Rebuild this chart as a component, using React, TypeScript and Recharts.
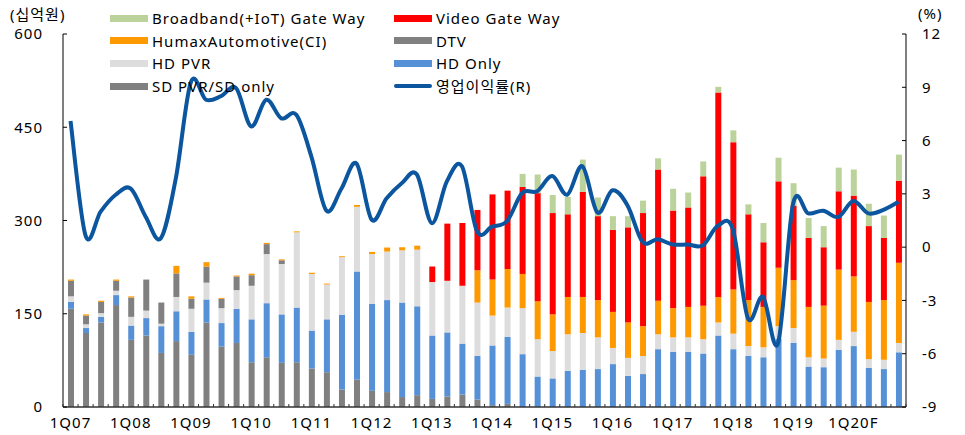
import React from 'react';
import { ComposedChart, Bar, Line, XAxis, YAxis, Legend } from 'recharts';

const quarters = [
  '1Q07', '2Q07', '3Q07', '4Q07', '1Q08', '2Q08', '3Q08', '4Q08',
  '1Q09', '2Q09', '3Q09', '4Q09', '1Q10', '2Q10', '3Q10', '4Q10',
  '1Q11', '2Q11', '3Q11', '4Q11', '1Q12', '2Q12', '3Q12', '4Q12',
  '1Q13', '2Q13', '3Q13', '4Q13', '1Q14', '2Q14', '3Q14', '4Q14',
  '1Q15', '2Q15', '3Q15', '4Q15', '1Q16', '2Q16', '3Q16', '4Q16',
  '1Q17', '2Q17', '3Q17', '4Q17', '1Q18', '2Q18', '3Q18', '4Q18',
  '1Q19', '2Q19', '3Q19', '4Q19', '1Q20F', '2Q20F', '3Q20F', '4Q20F',
];

const sdPvr = [
  158, 119, 136, 164, 108, 115, 87, 106, 84, 136, 97, 103, 72, 80, 71, 72,
  62, 56, 28, 44, 26, 24, 16, 19, 13, 17, 20, 12, 3, 5, 0, 0,
  0, 0, 0, 0, 0, 0, 0, 0, 0, 0, 0, 0, 0, 0, 0, 0,
  0, 0, 0, 0, 0, 0, 0, 0,
];
const hdOnly = [
  11, 8, 9, 16, 23, 28, 43, 48, 37, 37, 38, 55, 69, 87, 78, 88,
  61, 85, 120, 174, 140, 148, 152, 143, 102, 103, 82, 70, 96, 108, 85, 49,
  46, 58, 60, 61, 69, 50, 53, 93, 89, 89, 86, 115, 93, 82, 80, 110,
  103, 65, 64, 92, 98, 63, 61, 88,
];
const hdPvr = [
  9, 6, 6, 7, 14, 12, 4, 23, 37, 27, 24, 30, 54, 79, 81, 121,
  91, 56, 93, 104, 80, 78, 84, 91, 86, 83, 93, 86, 48, 47, 74, 60,
  44, 59, 59, 51, 26, 29, 29, 24, 23, 23, 23, 21, 25, 16, 16, 20,
  24, 15, 14, 16, 23, 14, 15, 15,
];
const dtv = [
  25, 14, 18, 16, 31, 50, 34, 38, 16, 26, 15, 22, 17, 16, 6, 0,
  0, 0, 0, 0, 0, 0, 0, 0, 0, 0, 0, 0, 0, 0, 0, 0,
  0, 0, 0, 0, 0, 0, 0, 0, 0, 0, 0, 0, 0, 0, 0, 0,
  0, 0, 0, 0, 0, 0, 0, 0,
];
const automotive = [
  2, 2, 2, 2, 2, 0, 0, 12, 4, 7, 1.5, 1.5, 2.5, 2, 1.5, 1.5,
  2, 1.5, 1.5, 3, 3.5, 6.5, 5, 6.5, 0, 0, 0, 52, 58, 62, 55, 61,
  59, 60, 58, 60, 58, 57, 48, 54, 47, 49, 54, 41, 71, 74, 65, 94,
  77, 81, 85, 113, 89, 92, 96, 129,
];
const videoGw = [
  0, 0, 0, 0, 0, 0, 0, 0, 0, 0, 0, 0, 0, 0, 0, 0,
  0, 0, 0, 0, 0, 0, 0, 0, 25, 92, 101, 97, 137, 126, 140, 174,
  163, 133, 169, 135, 132, 153, 182, 211, 157, 160, 208, 329, 237, 138, 104, 139,
  120, 111, 94, 126, 130, 122, 100, 132,
];
const broadbandGw = [
  0, 0, 0, 0, 0, 0, 0, 0, 0, 0, 0, 0, 0, 0, 0, 0,
  0, 0, 0, 0, 0, 0, 0, 0, 0, 0, 0, 0, 0, 0, 21, 30,
  29, 28, 52, 30, 22, 18, 20, 18, 35, 24, 24, 9, 19, 16, 31, 38,
  36, 32, 34, 38, 42, 36, 36, 42,
];
const opMargin = [
  7.1, 0.65, 2.0, 2.95, 3.3, 1.7, 0.5, 3.9, 9.3, 8.3, 8.5, 8.95, 6.8, 8.3, 7.25, 7.45,
  5.1, 2.05, 3.3, 4.7, 1.55, 2.75, 3.6, 4.1, 1.35, 3.7, 4.55, 0.9, 1.15, 1.47, 3.05, 3.15,
  4.0, 2.95, 4.55, 1.95, 3.2, 2.35, 0.3, 0.44, 0.15, 0.15, 0.1, 1.2, 1.0, -4.0, -2.8, -5.4,
  2.45, 1.9, 2.05, 1.7, 2.6, 1.9, 2.1, 2.55,
];

const leftTicks = [0, 150, 300, 450, 600];
const rightTicks = [-9, -6, -3, 0, 3, 6, 9, 12];

const data = quarters.map((q, i) => ({
  q,
  sd: sdPvr[i],
  hdOnly: hdOnly[i],
  hdPvr: hdPvr[i],
  dtv: dtv[i],
  auto: automotive[i],
  video: videoGw[i],
  bb: broadbandGw[i],
  margin: opMargin[i],
}));

const C = {
  bb: '#bbd39b',
  video: '#ff0000',
  auto: '#ff9900',
  dtv: '#808080',
  hdPvr: '#dddddd',
  hdOnly: '#5690d6',
  sd: '#808080',
  line: '#0b569e',
};

const FONT = "'Noto Sans', 'Noto Sans CJK KR', sans-serif";

// Catmull-Rom style smoothing (similar to spreadsheet "smoothed line")
const smoothCurve = (context: any) => {
  let pts: number[][] = [];
  return {
    areaStart() {},
    areaEnd() {},
    lineStart() {
      pts = [];
    },
    point(x: number, y: number) {
      pts.push([+x, +y]);
    },
    lineEnd() {
      const n = pts.length;
      if (!n) return;
      context.moveTo(pts[0][0], pts[0][1]);
      for (let i = 0; i < n - 1; i++) {
        const p0 = pts[i - 1] || pts[i];
        const p1 = pts[i];
        const p2 = pts[i + 1];
        const p3 = pts[i + 2] || pts[i + 1];
        const c1x = p1[0] + (p2[0] - p0[0]) / 6;
        const c1y = p1[1] + (p2[1] - p0[1]) / 6;
        const c2x = p2[0] - (p3[0] - p1[0]) / 6;
        const c2y = p2[1] - (p3[1] - p1[1]) / 6;
        context.bezierCurveTo(c1x, c1y, c2x, c2y, p2[0], p2[1]);
      }
    },
  };
};

const legendItems = [
  { name: 'Broadband(+IoT) Gate Way', color: C.bb, col: 0, row: 0, line: false },
  { name: 'Video Gate Way', color: C.video, col: 1, row: 0, line: false },
  { name: 'HumaxAutomotive(CI)', color: C.auto, col: 0, row: 1, line: false },
  { name: 'DTV', color: C.dtv, col: 1, row: 1, line: false },
  { name: 'HD PVR', color: C.hdPvr, col: 0, row: 2, line: false },
  { name: 'HD Only', color: C.hdOnly, col: 1, row: 2, line: false },
  { name: 'SD PVR/SD only', color: C.sd, col: 0, row: 3, line: false },
  { name: '영업이익률(R)', color: C.line, col: 1, row: 3, line: true },
];

const colX = [110, 394];
const rowY = [18, 40.5, 63.3, 86];

const textBase = { fontSize: 15, letterSpacing: 1, color: '#000', whiteSpace: 'nowrap' as const };

const renderLegend = () => (
  <div style={{ position: 'relative', width: 965, height: 100, fontFamily: FONT }}>
    {legendItems.map((it) => (
      <React.Fragment key={it.name}>
        <div
          style={{
            position: 'absolute',
            left: colX[it.col],
            top: rowY[it.row] - (it.line ? 2 : 3.5),
            width: 38,
            height: it.line ? 4 : 7,
            borderRadius: it.line ? 2 : 0,
            background: it.color,
          }}
        />
        <div
          style={{
            ...textBase,
            position: 'absolute',
            left: colX[it.col] + 42,
            top: rowY[it.row] - 8,
            height: 16,
            lineHeight: '16px',
          }}
        >
          {it.name}
        </div>
      </React.Fragment>
    ))}
    <div style={{ ...textBase, position: 'absolute', left: 10, top: 6, height: 16, lineHeight: '16px' }}>(십억원)</div>
    <div style={{ ...textBase, position: 'absolute', left: 918, top: 5, height: 16, lineHeight: '16px' }}>(%)</div>
  </div>
);

const tickStyle = { fontSize: 15, fill: '#000', fontFamily: FONT, letterSpacing: 1 };

const QuarterTick = (props: any) => {
  const { x, y, payload, index } = props;
  const half = payload && payload.offset ? payload.offset : 7.53;
  const showLabel = index % 4 === 0;
  return (
    <g>
      {index === 0 && <line x1={x - half} x2={x - half} y1={y - 3} y2={y} stroke="#333" />}
      <line x1={x + half} x2={x + half} y1={y - 3} y2={y} stroke="#333" />
      {showLabel && (
        <text x={x} y={y + 21} textAnchor="middle" fontSize={15} fill="#000" fontFamily={FONT} letterSpacing={1}>
          {payload.value}
        </text>
      )}
    </g>
  );
};

export default function App() {
  return (
    <div style={{ position: 'absolute', left: 0, top: 0, width: 965, height: 435, fontFamily: FONT, background: '#fff' }}>
      <ComposedChart
        width={965}
        height={435}
        data={data}
        margin={{ top: 34, right: 0, bottom: 0, left: 0 }}
        barSize={6}
      >
        <XAxis
          xAxisId="c"
          dataKey="q"
          height={28}
          interval={0}
          axisLine={{ stroke: '#333', strokeWidth: 1.3 }}
          tickLine={false}
          tickSize={0}
          tickMargin={0}
          tick={<QuarterTick />}
        />
        <YAxis
          yAxisId="l"
          orientation="left"
          width={63}
          domain={[0, 600]}
          ticks={leftTicks}
          tickSize={-4}
          tickMargin={24}
          axisLine={{ stroke: '#000' }}
          tickLine={{ stroke: '#000' }}
          tick={tickStyle}
        />
        <YAxis
          yAxisId="r"
          orientation="right"
          width={59}
          domain={[-9, 12]}
          ticks={rightTicks}
          tickSize={-4}
          tickMargin={20}
          axisLine={{ stroke: '#000' }}
          tickLine={{ stroke: '#000' }}
          tick={tickStyle}
        />
        <Legend
          content={renderLegend}
          layout="vertical"
          align="center"
          verticalAlign="middle"
          wrapperStyle={{ position: 'absolute', left: 0, top: 0, width: 965, height: 100 }}
        />
        <Bar xAxisId="c" yAxisId="l" dataKey="sd" stackId="s" fill={C.sd} isAnimationActive={false} />
        <Bar xAxisId="c" yAxisId="l" dataKey="hdOnly" stackId="s" fill={C.hdOnly} isAnimationActive={false} />
        <Bar xAxisId="c" yAxisId="l" dataKey="hdPvr" stackId="s" fill={C.hdPvr} isAnimationActive={false} />
        <Bar xAxisId="c" yAxisId="l" dataKey="dtv" stackId="s" fill={C.dtv} isAnimationActive={false} />
        <Bar xAxisId="c" yAxisId="l" dataKey="auto" stackId="s" fill={C.auto} isAnimationActive={false} />
        <Bar xAxisId="c" yAxisId="l" dataKey="video" stackId="s" fill={C.video} isAnimationActive={false} />
        <Bar xAxisId="c" yAxisId="l" dataKey="bb" stackId="s" fill={C.bb} isAnimationActive={false} />
        <Line
          xAxisId="c"
          yAxisId="r"
          dataKey="margin"
          type={smoothCurve as any}
          stroke={C.line}
          strokeWidth={4}
          dot={false}
          activeDot={false}
          isAnimationActive={false}
        />
      </ComposedChart>
    </div>
  );
}
